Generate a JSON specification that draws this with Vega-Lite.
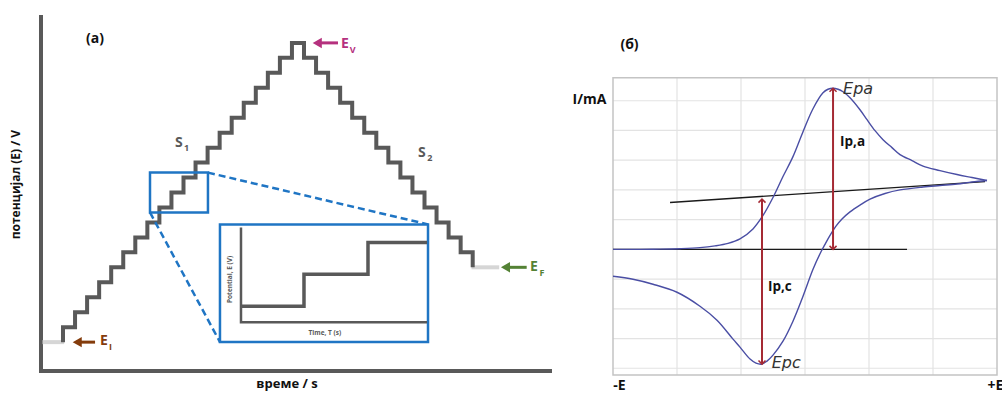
{
  "$schema": "https://vega.github.io/schema/vega-lite/v6.json",
  "width": 1002,
  "height": 394,
  "autosize": {"type": "fit", "contains": "padding"},
  "padding": 0,
  "background": "white",
  "config": {"view": {"stroke": null}},
  "datasets": {
    "stairs": [
      {"i": 0, "t": 0, "E": 0}, {"i": 1, "t": 0, "E": 1}, {"i": 2, "t": 1, "E": 2}, {"i": 3, "t": 2, "E": 3},
      {"i": 4, "t": 3, "E": 4}, {"i": 5, "t": 4, "E": 5}, {"i": 6, "t": 5, "E": 6}, {"i": 7, "t": 6, "E": 7},
      {"i": 8, "t": 7, "E": 8}, {"i": 9, "t": 8, "E": 9}, {"i": 10, "t": 9, "E": 10}, {"i": 11, "t": 10, "E": 11},
      {"i": 12, "t": 11, "E": 12}, {"i": 13, "t": 12, "E": 13}, {"i": 14, "t": 13, "E": 14}, {"i": 15, "t": 14, "E": 15},
      {"i": 16, "t": 15, "E": 16}, {"i": 17, "t": 16, "E": 17}, {"i": 18, "t": 17, "E": 18}, {"i": 19, "t": 18, "E": 19},
      {"i": 20, "t": 19, "E": 20}, {"i": 21, "t": 20, "E": 19}, {"i": 22, "t": 21, "E": 18}, {"i": 23, "t": 22, "E": 17},
      {"i": 24, "t": 23, "E": 16}, {"i": 25, "t": 24, "E": 15}, {"i": 26, "t": 25, "E": 14}, {"i": 27, "t": 26, "E": 13},
      {"i": 28, "t": 27, "E": 12}, {"i": 29, "t": 28, "E": 11}, {"i": 30, "t": 29, "E": 10}, {"i": 31, "t": 30, "E": 9},
      {"i": 32, "t": 31, "E": 8}, {"i": 33, "t": 32, "E": 7}, {"i": 34, "t": 33, "E": 6}, {"i": 35, "t": 34, "E": 5}
    ],
    "cv": [
      {"i": 1, "scan": "forward", "E": -3.0, "I": 0.0},
      {"i": 2, "scan": "forward", "E": -2.578, "I": 0.0},
      {"i": 3, "scan": "forward", "E": -2.266, "I": 0.007},
      {"i": 4, "scan": "forward", "E": -1.953, "I": 0.023},
      {"i": 5, "scan": "forward", "E": -1.641, "I": 0.057},
      {"i": 6, "scan": "forward", "E": -1.406, "I": 0.117},
      {"i": 7, "scan": "forward", "E": -1.203, "I": 0.201},
      {"i": 8, "scan": "forward", "E": -1.016, "I": 0.352},
      {"i": 9, "scan": "forward", "E": -0.813, "I": 0.688},
      {"i": 10, "scan": "forward", "E": -0.656, "I": 1.141},
      {"i": 11, "scan": "forward", "E": -0.5, "I": 1.745},
      {"i": 12, "scan": "forward", "E": -0.344, "I": 2.45},
      {"i": 13, "scan": "forward", "E": -0.188, "I": 3.121},
      {"i": 14, "scan": "forward", "E": -0.031, "I": 3.96},
      {"i": 15, "scan": "forward", "E": 0.125, "I": 4.732},
      {"i": 16, "scan": "forward", "E": 0.281, "I": 5.268},
      {"i": 17, "scan": "forward", "E": 0.359, "I": 5.386},
      {"i": 18, "scan": "forward", "E": 0.438, "I": 5.419},
      {"i": 19, "scan": "forward", "E": 0.516, "I": 5.386},
      {"i": 20, "scan": "forward", "E": 0.594, "I": 5.302},
      {"i": 21, "scan": "forward", "E": 0.703, "I": 5.101},
      {"i": 22, "scan": "forward", "E": 0.859, "I": 4.698},
      {"i": 23, "scan": "forward", "E": 0.969, "I": 4.362},
      {"i": 24, "scan": "forward", "E": 1.094, "I": 3.993},
      {"i": 25, "scan": "forward", "E": 1.219, "I": 3.691},
      {"i": 26, "scan": "forward", "E": 1.359, "I": 3.423},
      {"i": 27, "scan": "forward", "E": 1.484, "I": 3.188},
      {"i": 28, "scan": "forward", "E": 1.672, "I": 2.987},
      {"i": 29, "scan": "forward", "E": 1.844, "I": 2.802},
      {"i": 30, "scan": "forward", "E": 2.109, "I": 2.651},
      {"i": 31, "scan": "forward", "E": 2.375, "I": 2.517},
      {"i": 32, "scan": "forward", "E": 2.609, "I": 2.416},
      {"i": 33, "scan": "forward", "E": 2.844, "I": 2.315},
      {"i": 34, "scan": "reverse", "E": 2.844, "I": 2.315},
      {"i": 35, "scan": "reverse", "E": 2.609, "I": 2.265},
      {"i": 36, "scan": "reverse", "E": 2.375, "I": 2.198},
      {"i": 37, "scan": "reverse", "E": 2.109, "I": 2.148},
      {"i": 38, "scan": "reverse", "E": 1.844, "I": 2.097},
      {"i": 39, "scan": "reverse", "E": 1.484, "I": 2.0},
      {"i": 40, "scan": "reverse", "E": 1.25, "I": 1.88},
      {"i": 41, "scan": "reverse", "E": 1.016, "I": 1.69},
      {"i": 42, "scan": "reverse", "E": 0.859, "I": 1.49},
      {"i": 43, "scan": "reverse", "E": 0.703, "I": 1.26},
      {"i": 44, "scan": "reverse", "E": 0.578, "I": 1.02},
      {"i": 45, "scan": "reverse", "E": 0.484, "I": 0.78},
      {"i": 46, "scan": "reverse", "E": 0.391, "I": 0.47},
      {"i": 47, "scan": "reverse", "E": 0.313, "I": 0.17},
      {"i": 48, "scan": "reverse", "E": 0.25, "I": -0.08},
      {"i": 49, "scan": "reverse", "E": 0.125, "I": -0.671},
      {"i": 50, "scan": "reverse", "E": -0.031, "I": -1.577},
      {"i": 51, "scan": "reverse", "E": -0.188, "I": -2.416},
      {"i": 52, "scan": "reverse", "E": -0.344, "I": -3.087},
      {"i": 53, "scan": "reverse", "E": -0.5, "I": -3.557},
      {"i": 54, "scan": "reverse", "E": -0.594, "I": -3.758},
      {"i": 55, "scan": "reverse", "E": -0.672, "I": -3.859},
      {"i": 56, "scan": "reverse", "E": -0.766, "I": -3.826},
      {"i": 57, "scan": "reverse", "E": -0.859, "I": -3.691},
      {"i": 58, "scan": "reverse", "E": -1.016, "I": -3.289},
      {"i": 59, "scan": "reverse", "E": -1.125, "I": -3.02},
      {"i": 60, "scan": "reverse", "E": -1.375, "I": -2.383},
      {"i": 61, "scan": "reverse", "E": -1.641, "I": -1.913},
      {"i": 62, "scan": "reverse", "E": -2.0, "I": -1.443},
      {"i": 63, "scan": "reverse", "E": -2.375, "I": -1.174},
      {"i": 64, "scan": "reverse", "E": -2.688, "I": -1.007},
      {"i": 65, "scan": "reverse", "E": -3.0, "I": -0.906}
    ]
  },
  "layer": [
    {
      "encoding": {
        "x": {"field": "t", "type": "quantitative", "scale": {"domain": [-5.228, 77.925], "nice": false, "zero": false}, "axis": null},
        "y": {"field": "E", "type": "quantitative", "scale": {"domain": [-3.4, 22.867], "nice": false, "zero": false}, "axis": null}
      },
      "layer": [
        {
          "data": {"values": [{"i": 0, "t": -1.826, "E": 21.867}, {"i": 1, "t": -1.826, "E": -1.933}, {"i": 2, "t": 40.58, "E": -1.933}]},
          "mark": {"type": "line", "color": "#595959", "strokeWidth": 4, "strokeJoin": "miter"},
          "encoding": {"order": {"field": "i"}}
        },
        {
          "data": {"values": [{"t": -1.7, "t2": 0.1, "E": 0}, {"t": 33.9, "t2": 36.2, "E": 5}]},
          "mark": {"type": "rule", "color": "#d6d6d6", "strokeWidth": 4},
          "encoding": {"x2": {"field": "t2"}}
        },
        {
          "data": {"name": "stairs"},
          "mark": {"type": "line", "interpolate": "step-after", "color": "#595959", "strokeWidth": 4, "strokeJoin": "miter"},
          "encoding": {"order": {"field": "i"}}
        },
        {
          "data": {"values": [{"t": 7.22, "t2": 12.03, "E": 8.67, "E2": 11.33}]},
          "mark": {"type": "rect", "filled": false, "color": "#1f75c4", "strokeWidth": 2.5},
          "encoding": {"x2": {"field": "t2"}, "y2": {"field": "E2"}}
        },
        {
          "data": {"values": [{"t": 12.03, "E": 11.33, "t2": 30.29, "E2": 7.87}, {"t": 7.22, "E": 8.67, "t2": 13.03, "E2": 0}]},
          "mark": {"type": "rule", "color": "#1f75c4", "strokeWidth": 2.5, "strokeDash": [7, 4]},
          "encoding": {"x2": {"field": "t2"}, "y2": {"field": "E2"}}
        },
        {
          "data": {"values": [{"name": "EI", "t": 1.1, "t2": 2.66, "E": 0}, {"name": "EV", "t": 21.1, "t2": 22.82, "E": 20}, {"name": "EF", "t": 36.7, "t2": 38.48, "E": 5}]},
          "mark": {"type": "rule", "strokeWidth": 3},
          "encoding": {
            "x2": {"field": "t2"},
            "color": {"field": "name", "type": "nominal", "scale": {"domain": ["EI", "EV", "EF"], "range": ["#843c0c", "#b5317e", "#548235"]}, "legend": null}
          }
        },
        {
          "data": {"values": [{"name": "EI", "t": 1.18, "E": 0}, {"name": "EV", "t": 21.1, "E": 20}, {"name": "EF", "t": 36.72, "E": 5}]},
          "mark": {"type": "point", "shape": "triangle-left", "filled": true, "size": 110, "opacity": 1},
          "encoding": {
            "color": {"field": "name", "type": "nominal", "scale": {"domain": ["EI", "EV", "EF"], "range": ["#843c0c", "#b5317e", "#548235"]}, "legend": null}
          }
        },
        {
          "data": {"values": [{"name": "EI", "t": 3.07, "E": 0.07, "label": "E"}, {"name": "EV", "t": 23.07, "E": 19.93, "label": "E"}, {"name": "EF", "t": 38.76, "E": 5.0, "label": "E"}]},
          "mark": {"type": "text", "align": "left", "baseline": "middle", "font": "Open Sans", "fontWeight": "bold", "fontSize": 14},
          "encoding": {
            "text": {"field": "label"},
            "color": {"field": "name", "type": "nominal", "scale": {"domain": ["EI", "EV", "EF"], "range": ["#843c0c", "#b5317e", "#548235"]}, "legend": null}
          }
        },
        {
          "data": {"values": [{"name": "EI", "t": 3.82, "E": -0.33, "label": "I"}, {"name": "EV", "t": 23.8, "E": 19.55, "label": "V"}, {"name": "EF", "t": 39.55, "E": 4.62, "label": "F"}]},
          "mark": {"type": "text", "align": "left", "baseline": "middle", "font": "Open Sans", "fontWeight": "bold", "fontSize": 9},
          "encoding": {
            "text": {"field": "label"},
            "color": {"field": "name", "type": "nominal", "scale": {"domain": ["EI", "EV", "EF"], "range": ["#843c0c", "#b5317e", "#548235"]}, "legend": null}
          }
        },
        {
          "data": {"values": [{"t": 9.29, "E": 13.33, "label": "S"}, {"t": 29.46, "E": 12.67, "label": "S"}]},
          "mark": {"type": "text", "align": "left", "baseline": "middle", "font": "Open Sans", "fontWeight": "bold", "fontSize": 14, "color": "#595959"},
          "encoding": {"text": {"field": "label"}}
        },
        {
          "data": {"values": [{"t": 10.05, "E": 12.95, "label": "1"}, {"t": 30.22, "E": 12.3, "label": "2"}]},
          "mark": {"type": "text", "align": "left", "baseline": "middle", "font": "Open Sans", "fontWeight": "bold", "fontSize": 9, "color": "#595959"},
          "encoding": {"text": {"field": "label"}}
        },
        {
          "data": {"values": [{"t": 2.66, "E": 20.27, "label": "(a)"}]},
          "mark": {"type": "text", "align": "center", "baseline": "middle", "font": "Open Sans", "fontWeight": "bold", "fontSize": 14, "color": "#111111"},
          "encoding": {"text": {"field": "label"}}
        },
        {
          "data": {"values": [{"t": -3.9, "E": 10.53, "label": "потенцијал (E) / V"}]},
          "mark": {"type": "text", "align": "center", "baseline": "middle", "angle": 270, "font": "Open Sans", "fontWeight": "bold", "fontSize": 12, "color": "#111111"},
          "encoding": {"text": {"field": "label"}}
        },
        {
          "data": {"values": [{"t": 18.59, "E": -2.82, "label": "време / s"}]},
          "mark": {"type": "text", "align": "center", "baseline": "middle", "font": "Open Sans", "fontWeight": "bold", "fontSize": 13, "color": "#111111"},
          "encoding": {"text": {"field": "label"}}
        }
      ]
    },
    {
      "encoding": {
        "x": {"field": "T", "type": "quantitative", "scale": {"domain": [-3.795, 11.984], "nice": false, "zero": false}, "axis": null},
        "y": {"field": "E", "type": "quantitative", "scale": {"domain": [-2.219, 10.094], "nice": false, "zero": false}, "axis": null}
      },
      "layer": [
        {
          "data": {"values": [{"T": -0.331, "T2": 2.945, "E": -0.625, "E2": 3.0625}]},
          "mark": {"type": "rect", "fill": "white", "stroke": "#1f75c4", "strokeWidth": 2.5},
          "encoding": {"x2": {"field": "T2"}, "y2": {"field": "E2"}}
        },
        {
          "data": {"values": [{"i": 0, "T": 0, "E": 2.97}, {"i": 1, "T": 0, "E": 0}, {"i": 2, "T": 2.93, "E": 0}]},
          "mark": {"type": "line", "color": "#595959", "strokeWidth": 2.5, "strokeJoin": "miter"},
          "encoding": {"order": {"field": "i"}}
        },
        {
          "data": {"values": [{"i": 0, "T": 0, "E": 0.5}, {"i": 1, "T": 0.992, "E": 1.5}, {"i": 2, "T": 2.0, "E": 2.5}, {"i": 3, "T": 2.93, "E": 2.5}]},
          "mark": {"type": "line", "interpolate": "step-after", "color": "#595959", "strokeWidth": 3.5, "strokeJoin": "miter"},
          "encoding": {"order": {"field": "i"}}
        },
        {
          "data": {"values": [{"T": -0.173, "E": 1.34, "label": "Potential, E (V)"}]},
          "mark": {"type": "text", "align": "center", "baseline": "middle", "angle": 270, "font": "Open Sans", "fontWeight": "bold", "fontSize": 6.5, "color": "#595959"},
          "encoding": {"text": {"field": "label"}}
        },
        {
          "data": {"values": [{"T": 1.32, "E": -0.344, "label": "Time, T (s)"}]},
          "mark": {"type": "text", "align": "center", "baseline": "middle", "font": "Open Sans", "fontWeight": "bold", "fontSize": 6.5, "color": "#595959"},
          "encoding": {"text": {"field": "label"}}
        }
      ]
    },
    {
      "encoding": {
        "x": {"field": "E", "type": "quantitative", "scale": {"domain": [-12.578, 3.078], "nice": false, "zero": false}, "axis": null},
        "y": {"field": "I", "type": "quantitative", "scale": {"domain": [-4.832, 8.389], "nice": false, "zero": false}, "axis": null}
      },
      "layer": [
        {
          "data": {"values": [
            {"I": -4, "E": -3, "E2": 3}, {"I": -3, "E": -3, "E2": 3}, {"I": -2, "E": -3, "E2": 3}, {"I": -1, "E": -3, "E2": 3},
            {"I": 0, "E": -3, "E2": 3}, {"I": 1, "E": -3, "E2": 3}, {"I": 2, "E": -3, "E2": 3}, {"I": 3, "E": -3, "E2": 3},
            {"I": 4, "E": -3, "E2": 3}, {"I": 5, "E": -3, "E2": 3}
          ]},
          "mark": {"type": "rule", "color": "#e3e3e3", "strokeWidth": 1.2},
          "encoding": {"x2": {"field": "E2"}}
        },
        {
          "data": {"values": [
            {"E": -2, "I": -4.228, "I2": 5.772}, {"E": -1, "I": -4.228, "I2": 5.772}, {"E": 0, "I": -4.228, "I2": 5.772},
            {"E": 1, "I": -4.228, "I2": 5.772}, {"E": 2, "I": -4.228, "I2": 5.772}
          ]},
          "mark": {"type": "rule", "color": "#e3e3e3", "strokeWidth": 1.2},
          "encoding": {"y2": {"field": "I2"}}
        },
        {
          "data": {"values": [{"E": -3, "E2": 3, "I": -4.228, "I2": 5.772}]},
          "mark": {"type": "rect", "filled": false, "color": "#c4c4c4", "strokeWidth": 1.5},
          "encoding": {"x2": {"field": "E2"}, "y2": {"field": "I2"}}
        },
        {
          "data": {"values": [{"E": -3, "I": 0, "E2": 1.594, "I2": 0}, {"E": -2.109, "I": 1.577, "E2": 2.8125, "I2": 2.282}]},
          "mark": {"type": "rule", "color": "#1a1a1a", "strokeWidth": 1.3},
          "encoding": {"x2": {"field": "E2"}, "y2": {"field": "I2"}}
        },
        {
          "data": {"name": "cv"},
          "mark": {"type": "line", "interpolate": "catmull-rom", "color": "#4a4ea4", "strokeWidth": 1.4},
          "encoding": {"order": {"field": "i"}, "detail": {"field": "scan"}}
        },
        {
          "data": {"values": [{"E": 0.438, "I": 0, "I2": 5.419}, {"E": -0.672, "I": -3.859, "I2": 1.69}]},
          "mark": {"type": "rule", "color": "#a52a34", "strokeWidth": 2},
          "encoding": {"y2": {"field": "I2"}}
        },
        {
          "data": {"values": [{"E": 0.438, "I": 5.419}, {"E": -0.672, "I": 1.69}]},
          "mark": {"type": "point", "shape": "M-1,1L0,0L1,1", "filled": false, "color": "#a52a34", "strokeWidth": 1.5, "size": 49, "opacity": 1},
          "encoding": {}
        },
        {
          "data": {"values": [{"E": 0.438, "I": 0}, {"E": -0.672, "I": -3.859}]},
          "mark": {"type": "point", "shape": "M-1,-1L0,0L1,-1", "filled": false, "color": "#a52a34", "strokeWidth": 1.5, "size": 49, "opacity": 1},
          "encoding": {}
        },
        {
          "data": {"values": [{"E": 0.594, "I": 5.4, "label": "Epa"}, {"E": -0.52, "I": -3.83, "label": "Epc"}]},
          "mark": {"type": "text", "align": "left", "baseline": "middle", "font": "DejaVu Sans", "fontStyle": "italic", "fontSize": 16, "color": "#333333"},
          "encoding": {"text": {"field": "label"}}
        },
        {
          "data": {"values": [{"E": 0.547, "I": 3.62, "label": "Ip,a"}, {"E": -0.578, "I": -1.275, "label": "Ip,c"}]},
          "mark": {"type": "text", "align": "left", "baseline": "middle", "font": "Open Sans", "fontWeight": "bold", "fontSize": 13.5, "color": "#111111"},
          "encoding": {"text": {"field": "label"}}
        },
        {
          "data": {"values": [{"E": -3.367, "I": 5.03, "label": "I/mA"}, {"E": -2.742, "I": 6.88, "label": "(б)"}, {"E": -2.898, "I": -4.6, "label": "-E"}]},
          "mark": {"type": "text", "align": "center", "baseline": "middle", "font": "Open Sans", "fontWeight": "bold", "fontSize": 14, "color": "#111111"},
          "encoding": {"text": {"field": "label"}}
        },
        {
          "data": {"values": [{"E": 2.85, "I": -4.6, "label": "+E"}]},
          "mark": {"type": "text", "align": "left", "baseline": "middle", "font": "Open Sans", "fontWeight": "bold", "fontSize": 14, "color": "#111111", "clip": true},
          "encoding": {"text": {"field": "label"}}
        }
      ]
    }
  ],
  "resolve": {"scale": {"x": "independent", "y": "independent"}}
}
